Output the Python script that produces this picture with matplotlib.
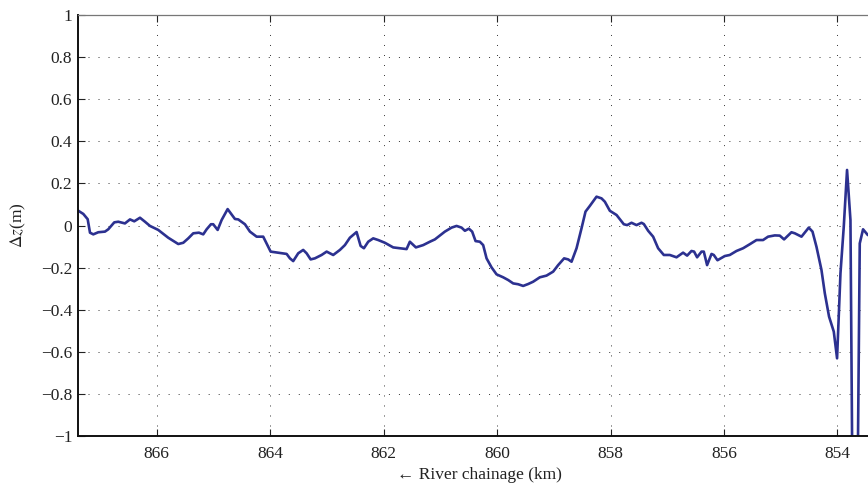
import matplotlib.pyplot as plt
from matplotlib.ticker import FuncFormatter, MultipleLocator

plt.rcParams['font.family'] = ['Liberation Serif', 'DejaVu Serif']
plt.rcParams['mathtext.fontset'] = 'stix'

# bed level change along the reach (km, m)
chainage = [
    867.392, 867.293, 867.216, 867.175, 867.117, 867.029, 866.911, 866.853, 866.747, 866.677,
    866.559, 866.470, 866.395, 866.294, 866.206, 866.118, 865.972, 865.796, 865.619, 865.531,
    865.443, 865.355, 865.255, 865.179, 865.119, 865.043, 865.003, 864.925, 864.855, 864.749,
    864.620, 864.562, 864.444, 864.356, 864.238, 864.122, 864.062, 863.991, 863.857, 863.709,
    863.651, 863.593, 863.505, 863.417, 863.357, 863.286, 863.211, 863.093, 863.004, 862.888,
    862.770, 862.682, 862.594, 862.476, 862.405, 862.347, 862.271, 862.183, 862.095, 861.977,
    861.831, 861.595, 861.537, 861.431, 861.302, 861.184, 861.096, 860.920, 860.802, 860.714,
    860.626, 860.567, 860.497, 860.439, 860.379, 860.303, 860.245, 860.185, 860.097, 860.009,
    859.893, 859.804, 859.716, 859.628, 859.540, 859.452, 859.364, 859.246, 859.128, 859.011,
    858.923, 858.818, 858.747, 858.687, 858.599, 858.511, 858.441, 858.365, 858.247, 858.159,
    858.100, 858.012, 857.894, 857.766, 857.707, 857.630, 857.542, 857.454, 857.413, 857.337,
    857.249, 857.161, 857.061, 856.955, 856.837, 856.721, 856.650, 856.573, 856.527, 856.474,
    856.396, 856.356, 856.298, 856.220, 856.180, 856.115, 855.986, 855.898, 855.780, 855.663,
    855.546, 855.427, 855.311, 855.223, 855.105, 855.017, 854.941, 854.811, 854.752, 854.634,
    854.506, 854.440, 854.370, 854.282, 854.223, 854.148, 854.065, 854.007, 853.947, 853.889,
    853.831, 853.771, 853.695, 853.607, 853.549, 853.466, 853.400,
]
dz = [
    0.072, 0.055, 0.030, -0.034, -0.042, -0.032, -0.029, -0.018, 0.015, 0.018,
    0.010, 0.029, 0.020, 0.037, 0.018, -0.002, -0.021, -0.058, -0.088, -0.082,
    -0.061, -0.037, -0.034, -0.042, -0.018, 0.006, 0.006, -0.021, 0.026, 0.078,
    0.031, 0.029, 0.006, -0.029, -0.053, -0.053, -0.085, -0.124, -0.129, -0.135,
    -0.156, -0.169, -0.132, -0.116, -0.132, -0.161, -0.156, -0.140, -0.124, -0.140,
    -0.116, -0.093, -0.058, -0.031, -0.097, -0.108, -0.077, -0.061, -0.069, -0.082,
    -0.104, -0.112, -0.077, -0.104, -0.093, -0.077, -0.066, -0.029, -0.010, -0.002,
    -0.010, -0.025, -0.015, -0.029, -0.074, -0.077, -0.093, -0.156, -0.199, -0.232,
    -0.246, -0.259, -0.275, -0.279, -0.287, -0.278, -0.267, -0.246, -0.238, -0.219,
    -0.188, -0.156, -0.161, -0.172, -0.108, -0.013, 0.066, 0.093, 0.137, 0.129,
    0.113, 0.070, 0.050, 0.006, 0.002, 0.013, 0.002, 0.013, 0.007, -0.025,
    -0.053, -0.108, -0.140, -0.140, -0.151, -0.129, -0.143, -0.121, -0.124, -0.151,
    -0.124, -0.124, -0.188, -0.135, -0.140, -0.165, -0.145, -0.140, -0.121, -0.108,
    -0.089, -0.069, -0.069, -0.053, -0.047, -0.048, -0.066, -0.032, -0.037, -0.053,
    -0.010, -0.029, -0.101, -0.211, -0.322, -0.433, -0.504, -0.631, -0.227, -0.006,
    0.264, 0.026, -2.730, -0.085, -0.018, -0.045, -0.050,
]

fig = plt.figure(figsize=(8.68, 4.83), dpi=100)
ax = fig.add_axes([0.0895, 0.0973, 0.9263, 0.8716])

ax.plot(chainage, dz, color='#2c3190', lw=1.9)

ax.set_xlim(867.392, 853.22)
ax.set_ylim(-1, 1)
ax.xaxis.set_major_locator(MultipleLocator(2))
ax.yaxis.set_major_locator(MultipleLocator(0.2))
ax.yaxis.set_major_formatter(FuncFormatter(lambda v, p: ('%g' % round(v, 2)).replace('-', '\u2212')))

ax.grid(True, color='#333333', lw=0.7, linestyle=(0, (1, 9.3)))
ax.tick_params(direction='in', length=5, width=0.8, top=True, right=False,
               labelsize=12.5, colors='#222222')
ax.tick_params(axis='x', pad=7)
ax.tick_params(axis='y', pad=4)

for s in ('left', 'bottom'):
    ax.spines[s].set_linewidth(1.4)
    ax.spines[s].set_color('#111111')
ax.spines['top'].set_linewidth(0.9)
ax.spines['top'].set_color('#777777')
ax.spines['right'].set_visible(False)

ax.set_xlabel('\u2190 River chainage (km)', fontsize=12.5, color='#222222', labelpad=4)
ax.set_ylabel(r'$\Delta z$(m)', fontsize=12.5, color='#222222', labelpad=9)

fig.savefig('out.png', dpi=100)
